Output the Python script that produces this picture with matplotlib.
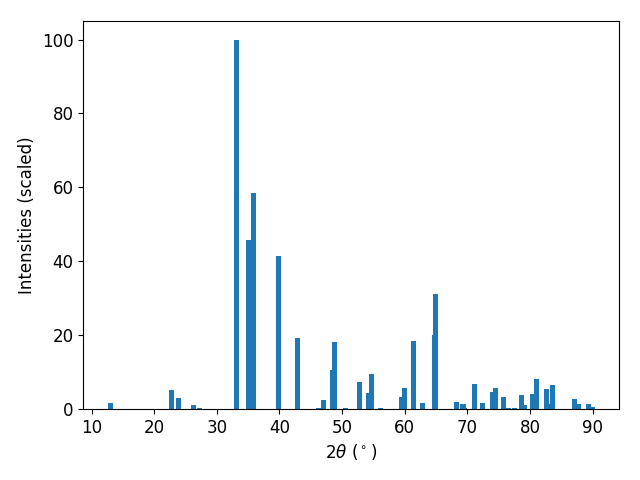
import matplotlib
matplotlib.use("Agg")
import matplotlib.pyplot as plt

two_theta = [12.95, 22.7, 23.8, 26.2, 27.2, 33.07, 35.0, 35.8, 39.78,
             42.81, 46.2, 46.97, 48.4, 48.72, 50.6, 52.7, 54.15, 54.63,
             56.2, 59.42, 59.9, 61.34, 62.78, 64.69, 64.85, 68.2, 69.3,
             69.5, 71.08, 72.36, 73.94, 74.43, 75.7, 76.5, 77.47, 78.58,
             79.06, 80.34, 80.98, 82.58, 83.05, 83.53, 87.05, 87.7, 89.28,
             89.9]
intensity = [1.6, 5.15, 3.0, 1.1, 0.3, 100.0, 45.8, 58.5, 41.5,
             19.2, 0.3, 2.4, 10.6, 18.2, 0.3, 7.3, 4.3, 9.5,
             0.3, 3.25, 5.7, 18.4, 1.6, 20.0, 31.2, 1.9, 1.4,
             0.3, 6.8, 1.6, 4.6, 5.7, 3.25, 0.3, 0.3, 3.8,
             1.1, 4.1, 8.1, 5.4, 1.4, 6.5, 2.7, 1.4, 1.4,
             0.5]

fig, ax = plt.subplots(figsize=(6.4, 4.8))
ax.bar(two_theta, intensity)
ax.set_xlabel(r"$2\theta$ ($^\circ$)", fontsize=12)
ax.set_ylabel("Intensities (scaled)", fontsize=12)
ax.tick_params(labelsize=12)
fig.subplots_adjust(left=0.130, right=0.967, top=0.956, bottom=0.148)
fig.savefig("out.png", dpi=100)
